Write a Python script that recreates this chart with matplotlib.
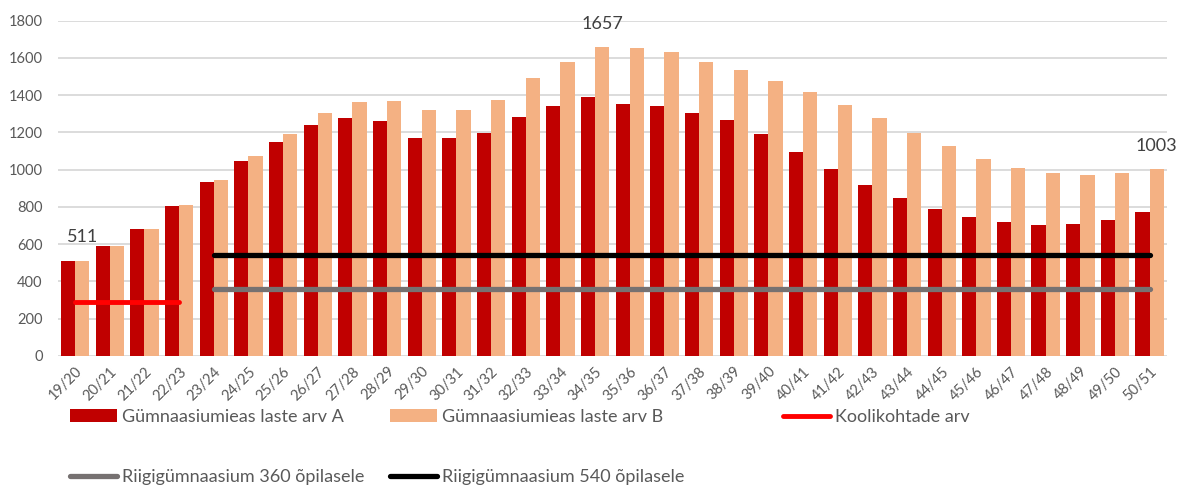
import matplotlib.pyplot as plt
import numpy as np

plt.rcParams['font.family'] = ['Lato', 'DejaVu Sans']

years = ['19/20', '20/21', '21/22', '22/23', '23/24', '24/25', '25/26', '26/27',
         '27/28', '28/29', '29/30', '30/31', '31/32', '32/33', '33/34', '34/35',
         '35/36', '36/37', '37/38', '38/39', '39/40', '40/41', '41/42', '42/43',
         '43/44', '44/45', '45/46', '46/47', '47/48', '48/49', '49/50', '50/51']

laste_a = [509, 588, 682, 803, 932, 1047, 1147, 1240, 1276, 1261, 1169, 1169,
           1197, 1283, 1340, 1391, 1355, 1340, 1305, 1269, 1190, 1097, 1004, 918,
           846, 789, 746, 717, 703, 710, 732, 775]
laste_b = [511, 590, 682, 810, 946, 1075, 1189, 1304, 1361, 1368, 1318, 1318,
           1375, 1490, 1576, 1657, 1655, 1633, 1576, 1533, 1476, 1418, 1347, 1275,
           1196, 1125, 1060, 1010, 981, 974, 981, 1003]

koolikohad = [290, 290, 290, 290]        # 19/20 .. 22/23
riigi_360 = [360] * 28                   # 23/24 .. 50/51
riigi_540 = [540] * 28

labelled = {0: 511, 15: 1657, 31: 1003}  # index -> value shown above B bar

x = np.arange(len(years))
w = 0.41

fig = plt.figure(figsize=(11.8, 4.86), dpi=100)
ax = fig.add_axes([0.049, 0.2675, 0.94, 0.69])

bars_a = ax.bar(x - w / 2, laste_a, w, color='#C00000', zorder=2,
                label='Gümnaasiumieas laste arv A')
bars_b = ax.bar(x + w / 2, laste_b, w, color='#F4B183', zorder=2,
                label='Gümnaasiumieas laste arv B')

l_red, = ax.plot(x[:4], koolikohad, color='#FF0000', lw=3.5,
                 solid_capstyle='round', zorder=3, label='Koolikohtade arv')
l_gray, = ax.plot(x[4:], riigi_360, color='#767171', lw=3.8,
                  solid_capstyle='round', zorder=3,
                  label='Riigigümnaasium 360 õpilasele')
l_black, = ax.plot(x[4:], riigi_540, color='#000000', lw=3.8,
                   solid_capstyle='round', zorder=3,
                   label='Riigigümnaasium 540 õpilasele')

for i, v in labelled.items():
    ax.annotate(str(v), xy=(x[i] + w / 2, v), xytext=(0, 17),
                textcoords='offset points', ha='center', va='center',
                fontsize=13, color='#404040')

ax.set_xlim(-0.5, len(years) - 0.5)
ax.set_ylim(0, 1800)
ax.set_yticks(np.arange(0, 1801, 200))
ax.yaxis.grid(True, color='#D9D9D9', lw=1.3, zorder=0)
ax.set_axisbelow(True)
for s in ax.spines.values():
    s.set_visible(False)
ax.tick_params(axis='both', length=0, colors='#595959', labelsize=10.5)
ax.tick_params(axis='y', pad=11)
ax.tick_params(axis='x', pad=6)
ax.set_xticks(x)
ax.set_xticklabels(years, rotation=45, ha='right', rotation_mode='anchor')

# legend laid out like the Excel one: three columns at fixed positions
leg_kw = dict(loc='upper left', frameon=False, fontsize=13,
              labelcolor='#595959', handlelength=2.6, handleheight=0.7,
              handletextpad=0.3, labelspacing=2.45, borderaxespad=0,
              borderpad=0)
for hs, x0 in [([bars_a, l_gray], 70), ([bars_b, l_black], 390), ([l_red], 783)]:
    lg = fig.legend(handles=hs, labels=[h.get_label() for h in hs],
                    bbox_to_anchor=(x0 / 1180, 1 - 409 / 486), **leg_kw)

plt.savefig('out.png', dpi=100)
